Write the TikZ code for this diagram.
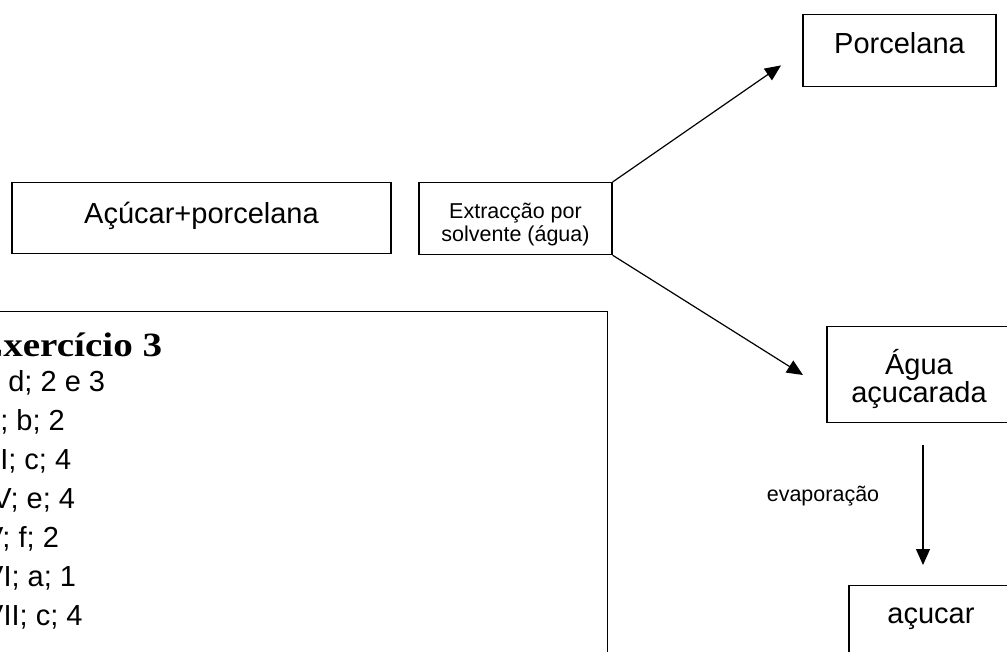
\documentclass[tikz,border=0pt]{standalone}
\usepackage{fontspec}
\setmainfont{Liberation Sans}
\newfontfamily\headfont[FakeStretch=1.15]{Liberation Serif}
\usetikzlibrary{positioning, arrows.meta}

\tikzset{
	box/.style={draw, line width=1.2pt, inner sep=0pt, anchor=north, align=center, font=\fontsize{29}{27}\selectfont},
	smallbox/.style={box, font=\fontsize{21.5}{22.5}\selectfont},
	arr/.style={line width=1.2pt, -{Triangle[length=16pt,width=14pt]}},
	item/.style={anchor=base west, inner sep=0pt, font=\fontsize{29}{39}\selectfont}
}

\begin{document}
\begin{tikzpicture}[x=1pt,y=-1pt]
	\useasboundingbox (0,0) rectangle (1007,651);
	\clip (0,0) rectangle (1007,651);
	% flow boxes
	\node (mix)[box, minimum width=379pt, text height=40.7pt, text depth=30.3pt] at (201.5,182) {Açúcar+porcelana};
	\node (extr)[smallbox, minimum width=193pt, text height=58.7pt, text depth=13.3pt] at (515.5,182) {Extracção por\\solvente (água)};
	\node (porc)[box, minimum width=193pt, text height=38.7pt, text depth=33.3pt] at (899.5,14) {Porcelana};
	\node (agua)[box, minimum width=184pt, text height=75.7pt, text depth=20.3pt] at (919,326) {Água\\açucarada};
	\node (acuc)[box, minimum width=164pt, text height=37.7pt, text depth=57.3pt] at (931,585) {açucar};
	\node (evap)[anchor=base, inner sep=0pt, font=\fontsize{21.5}{22.5}\selectfont] at (823,501.7) {evaporação};
	% free ends of the arrows
	\coordinate (aguaIn) at (803,375);
	\coordinate (evapTop) at (923,445);
	\coordinate (evapBot) at (923,565);
	\draw[arr, shorten >=26pt] (extr.north east)--(porc.west);
	\draw[arr] (extr.south east)--(aguaIn);
	\draw[arr] (evapTop)--(evapBot);
	% answers box
	\node (ex)[draw, line width=1.2pt, inner sep=0pt, anchor=north west, minimum width=612pt, minimum height=389pt] at (-5,311) {};
	\node (exTitle)[anchor=base west, inner sep=0pt, font=\headfont\bfseries\fontsize{34}{34}\selectfont] at (-23,356) {Exercício 3};
	\foreach \txt [count=\i] in {I; d; 2 e 3, II; b; 2, III; c; 4, IV; e; 4, V; f; 2, VI; a; 1, VII; c; 4}
		\node (item\i)[item] at (-16,{352+39*\i}) {\txt};
\end{tikzpicture}
\end{document}
